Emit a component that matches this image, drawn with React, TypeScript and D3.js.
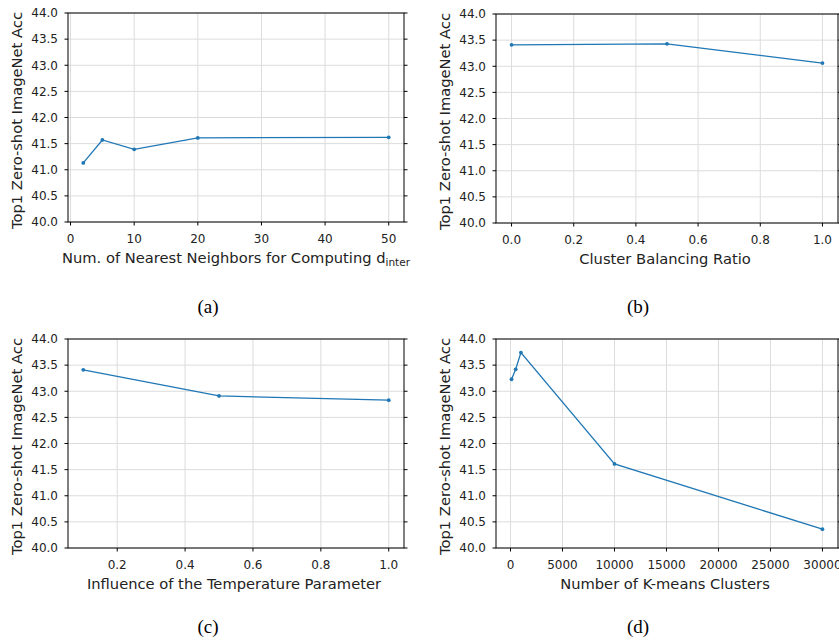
import React, { useEffect, useRef } from "react";
import * as d3 from "d3";

// panel (a): nearest neighbours
const knnX = [2, 5, 10, 20, 50];
const knnY = [41.13, 41.57, 41.39, 41.61, 41.62];
// panel (b): cluster balancing ratio
const balX = [0.0, 0.5, 1.0];
const balY = [43.41, 43.43, 43.06];
// panel (c): temperature
const tempX = [0.1, 0.5, 1.0];
const tempY = [43.41, 42.91, 42.83];
// panel (d): k-means clusters
const kmX = [100, 500, 1000, 10000, 30000];
const kmY = [43.23, 43.42, 43.74, 41.61, 40.36];

const yTicks = [40, 40.5, 41, 41.5, 42, 42.5, 43, 43.5, 44];
const knnTicks = [0, 10, 20, 30, 40, 50];
const balTicks = [0, 0.2, 0.4, 0.6, 0.8, 1.0];
const tempTicks = [0.2, 0.4, 0.6, 0.8, 1.0];
const kmTicks = [0, 5000, 10000, 15000, 20000, 25000, 30000];

const yLabel = "Top1 Zero-shot ImageNet Acc";
const FONT = "DejaVu Sans, sans-serif";

const App = () => {
  const ref = useRef<SVGSVGElement>(null);

  useEffect(() => {
    const svg = d3.select(ref.current);
    svg.selectAll("*").remove();

    const panels = [
      { xs: knnX, ys: knnY, ticks: knnTicks, fmt: d3.format("d"), label: "knn", caption: "(a)", capY: 313, x0: 68, x1: 404, y0: 13, y1: 222 },
      { xs: balX, ys: balY, ticks: balTicks, fmt: d3.format(".1f"), label: "Cluster Balancing Ratio", caption: "(b)", capY: 313, x0: 496, x1: 838, y0: 14, y1: 223 },
      { xs: tempX, ys: tempY, ticks: tempTicks, fmt: d3.format(".1f"), label: "Influence of the Temperature Parameter", caption: "(c)", capY: 633, x0: 68, x1: 404, y0: 339, y1: 548 },
      { xs: kmX, ys: kmY, ticks: kmTicks, fmt: d3.format("d"), label: "Number of K-means Clusters", caption: "(d)", capY: 633, x0: 496, x1: 838, y0: 339, y1: 548 },
    ];

    panels.forEach((p) => {
      const [mn, mx] = d3.extent(p.xs) as [number, number];
      const pad = (mx - mn) * 0.05;
      const x = d3.scaleLinear().domain([mn - pad, mx + pad]).range([p.x0, p.x1]);
      const y = d3.scaleLinear().domain([40, 44]).range([p.y1, p.y0]);
      const g = svg.append("g");

      // grid
      g.selectAll(".gx")
        .data(p.ticks)
        .join("line")
        .attr("x1", (d) => x(d))
        .attr("x2", (d) => x(d))
        .attr("y1", p.y0)
        .attr("y2", p.y1)
        .attr("stroke", "#dcdcdc")
        .attr("stroke-width", 1);
      g.selectAll(".gy")
        .data(yTicks)
        .join("line")
        .attr("x1", p.x0)
        .attr("x2", p.x1)
        .attr("y1", (d) => y(d))
        .attr("y2", (d) => y(d))
        .attr("stroke", "#dcdcdc")
        .attr("stroke-width", 1);

      // line + markers
      const pts = p.xs.map((v, i) => [v, p.ys[i]] as [number, number]);
      g.append("path")
        .datum(pts)
        .attr("fill", "none")
        .attr("stroke", "#1f77b4")
        .attr("stroke-width", 1.3)
        .attr("d", d3.line<[number, number]>().x((d) => x(d[0])).y((d) => y(d[1])));
      g.selectAll("circle")
        .data(pts)
        .join("circle")
        .attr("cx", (d) => x(d[0]))
        .attr("cy", (d) => y(d[1]))
        .attr("r", 1.9)
        .attr("fill", "#1f77b4");

      // frame
      g.append("rect")
        .attr("x", p.x0)
        .attr("y", p.y0)
        .attr("width", p.x1 - p.x0)
        .attr("height", p.y1 - p.y0)
        .attr("fill", "none")
        .attr("stroke", "#000")
        .attr("stroke-width", 1);

      // x ticks
      g.selectAll(".xt")
        .data(p.ticks)
        .join("line")
        .attr("x1", (d) => x(d))
        .attr("x2", (d) => x(d))
        .attr("y1", p.y1)
        .attr("y2", p.y1 + 3.5)
        .attr("stroke", "#000");
      g.selectAll(".xl")
        .data(p.ticks)
        .join("text")
        .attr("x", (d) => x(d))
        .attr("y", p.y1 + 21)
        .attr("text-anchor", "middle")
        .attr("font-family", FONT)
        .attr("font-size", 12)
        .attr("fill", "#222")
        .text((d) => p.fmt(d));

      // y ticks, left and right
      [p.x0, p.x1].forEach((sx, side) => {
        g.selectAll(".yt" + side)
          .data(yTicks)
          .join("line")
          .attr("x1", sx)
          .attr("x2", side ? sx + 3.5 : sx - 3.5)
          .attr("y1", (d) => y(d))
          .attr("y2", (d) => y(d))
          .attr("stroke", "#000");
      });
      g.selectAll(".yl")
        .data(yTicks)
        .join("text")
        .attr("x", p.x0 - 10)
        .attr("y", (d) => y(d) + 4.3)
        .attr("text-anchor", "end")
        .attr("font-family", FONT)
        .attr("font-size", 12)
        .attr("fill", "#222")
        .text((d) => d3.format(".1f")(d));

      // axis labels
      g.append("text")
        .attr("transform", `translate(${p.x0 - 46},${(p.y0 + p.y1) / 2 + 3}) rotate(-90)`)
        .attr("text-anchor", "middle")
        .attr("font-family", FONT)
        .attr("font-size", 14.7)
        .attr("fill", "#222")
        .text(yLabel);

      const xl = g.append("text")
        .attr("x", (p.x0 + p.x1) / 2 - 2)
        .attr("y", p.y1 + 41)
        .attr("text-anchor", "middle")
        .attr("font-family", FONT)
        .attr("font-size", 14.7)
        .attr("fill", "#222");
      if (p.label === "knn") {
        xl.attr("x", 236);
        xl.append("tspan").text("Num. of Nearest Neighbors for Computing d");
        xl.append("tspan").attr("font-size", 10.5).attr("dy", 3).text("inter");
      } else {
        xl.text(p.label);
      }

      // caption
      g.append("text")
        .attr("x", (p.x0 + p.x1) / 2 - (p.x0 > 400 ? 29 : 28))
        .attr("y", p.capY)
        .attr("text-anchor", "middle")
        .attr("font-family", "Liberation Serif, serif")
        .attr("font-size", 19)
        .attr("fill", "#000")
        .text(p.caption);
    });
  }, []);

  return (
    <div>
      <svg
        ref={ref}
        width={839}
        height={640}
        style={{ position: "absolute", left: 0, top: 0, background: "#fff" }}
      ></svg>
    </div>
  );
};

export default App;
